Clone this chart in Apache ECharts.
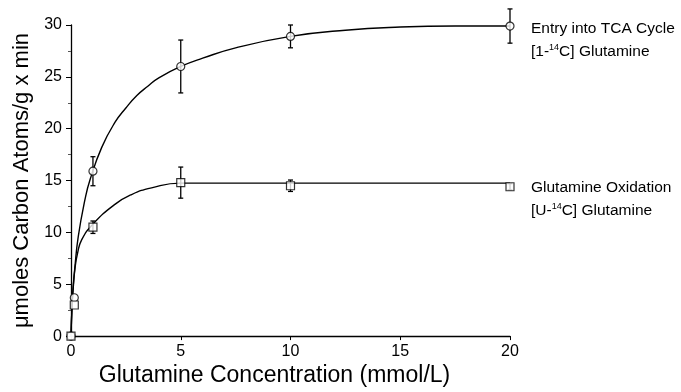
<!DOCTYPE html>
<html>
<head>
<meta charset="utf-8">
<script src="https://cdn.jsdelivr.net/npm/echarts@6/dist/echarts.min.js"></script>
<style>
    html, body { margin: 0; padding: 0; background: #fff; }
    #chart { width: 681px; height: 392px; }
</style>
</head>
<body>
<div id="chart"></div>
<script>
    // measured points (mmol/L glutamine)
    var conc = [0, 0.15, 1, 5, 10, 20];
    var tcaMean = [0, 3.7, 15.9, 26.0, 28.9, 29.9];
    var tcaSd = [0, 0, 1.4, 2.55, 1.1, 1.65];
    var oxMean = [0, 3.0, 10.5, 14.8, 14.5, 14.4];
    var oxSd = [0, 0, 0.6, 1.5, 0.55, 0.3];

    // fitted curves
    var tcaFitX = [0, 0.05, 0.1, 0.17, 0.33, 0.64, 0.87, 1.4, 2.0, 2.5, 3.0, 3.5, 4.0, 5, 6, 7.5, 10, 12.5, 15, 17.5, 20];
    var tcaFitY = [0, 3.0, 4.8, 6.5, 9.6, 13.2, 15.1, 18.2, 20.6, 22.0, 23.2, 24.1, 24.9, 26.0, 26.8, 27.8, 28.9, 29.5, 29.8, 29.9, 29.9];
    var oxFitX = [0, 0.05, 0.1, 0.18, 0.3, 0.49, 1, 2.0, 2.76, 3.67, 5, 10, 20];
    var oxFitY = [0, 3.0, 4.6, 6.5, 8.0, 9.3, 10.8, 12.7, 13.65, 14.3, 14.75, 14.75, 14.75];

    var yTicks = [0, 5, 10, 15, 20, 25, 30];
    var xTicks = [0, 5, 10, 15, 20];

    function pairs(xs, ys) {
        return xs.map(function (x, i) { return [x, ys[i]]; });
    }

    function errData(mean, sd) {
        var out = [];
        conc.forEach(function (x, i) {
            if (sd[i] > 0) out.push([x, mean[i] - sd[i], mean[i] + sd[i]]);
        });
        return out;
    }

    function renderErr(params, api) {
        var lo = api.coord([api.value(0), api.value(1)]);
        var hi = api.coord([api.value(0), api.value(2)]);
        var w = 2.5;
        var st = { stroke: '#000', lineWidth: 1.3 };
        return {
            type: 'group',
            children: [
                { type: 'line', shape: { x1: lo[0], y1: lo[1], x2: hi[0], y2: hi[1] }, style: st },
                { type: 'line', shape: { x1: lo[0] - w, y1: lo[1], x2: lo[0] + w, y2: lo[1] }, style: st },
                { type: 'line', shape: { x1: hi[0] - w, y1: hi[1], x2: hi[0] + w, y2: hi[1] }, style: st }
            ]
        };
    }

    var font = '"Liberation Sans", Arial, sans-serif';
    var chart = echarts.init(document.getElementById('chart'));

    chart.setOption({
        animation: false,
        textStyle: { fontFamily: font, color: '#000' },
        grid: { left: 71, right: 171, top: 25, bottom: 55 },
        xAxis: {
            type: 'value',
            min: 0, max: 20, interval: 5,
            name: 'Glutamine Concentration (mmol/L)',
            nameLocation: 'middle',
            nameGap: 24,
            nameTextStyle: { fontSize: 23, color: '#000', fontFamily: font, padding: [0, 32, 0, 0] },
            axisLine: { lineStyle: { color: '#000', width: 1.3 } },
            axisTick: { show: true, length: 4, lineStyle: { color: '#000' } },
            axisLabel: { fontSize: 16, color: '#000', margin: 7, fontFamily: font,
                formatter: function (v) { return xTicks.indexOf(v) >= 0 ? String(v) : ''; } },
            splitLine: { show: false }
        },
        yAxis: {
            type: 'value',
            min: 0, max: 30, interval: 5,
            name: 'μmoles Carbon Atoms/g x min',
            nameLocation: 'middle',
            nameGap: 35,
            nameRotate: 90,
            nameTextStyle: { fontSize: 22, color: '#000', fontFamily: font },
            axisLine: { show: true, lineStyle: { color: '#000', width: 1.3 } },
            axisTick: { show: true, length: 5, lineStyle: { color: '#000' } },
            minorTick: { show: true, splitNumber: 2, length: 3, lineStyle: { color: '#555' } },
            axisLabel: { fontSize: 16, color: '#000', margin: 9, fontFamily: font,
                formatter: function (v) { return yTicks.indexOf(v) >= 0 ? String(v) : ''; } },
            splitLine: { show: false }
        },
        series: [
            {
                type: 'line', data: pairs(tcaFitX, tcaFitY), showSymbol: false,
                smooth: 0.5,
                lineStyle: { color: '#000', width: 1.4 }, z: 2
            },
            {
                type: 'line', data: pairs(oxFitX, oxFitY), showSymbol: false,
                smooth: 0.5,
                lineStyle: { color: '#000', width: 1.4 }, z: 2
            },
            { type: 'custom', data: errData(tcaMean, tcaSd), renderItem: renderErr, clip: false, z: 3 },
            { type: 'custom', data: errData(oxMean, oxSd), renderItem: renderErr, clip: false, z: 3 },
            {
                type: 'scatter', data: pairs(conc, tcaMean), symbol: 'circle', symbolSize: 8,
                itemStyle: { color: '#fff', borderColor: '#000', borderWidth: 1.2 }, clip: false, z: 4
            },
            {
                type: 'scatter', data: pairs(conc, oxMean), symbol: 'rect', symbolSize: 8,
                itemStyle: { color: '#fff', borderColor: '#000', borderWidth: 1.2 }, clip: false, z: 5
            }
        ],
        graphic: [
            {
                type: 'text', left: 531, top: 17,
                style: {
                    text: 'Entry into TCA Cycle\n{a|[1-}{s|14}{a|C] Glutamine}',
                    font: '15.5px ' + font, fill: '#000', lineHeight: 23,
                    rich: {
                        a: { fontSize: 15.5, fontFamily: font, lineHeight: 23 },
                        s: { fontSize: 9, fontFamily: font, verticalAlign: 'top', lineHeight: 23, padding: [3, 0, 0, 0] }
                    }
                }
            },
            {
                type: 'text', left: 531, top: 176,
                style: {
                    text: 'Glutamine Oxidation\n{a|[U-}{s|14}{a|C] Glutamine}',
                    font: '15.5px ' + font, fill: '#000', lineHeight: 23,
                    rich: {
                        a: { fontSize: 15.5, fontFamily: font, lineHeight: 23 },
                        s: { fontSize: 9, fontFamily: font, verticalAlign: 'top', lineHeight: 23, padding: [3, 0, 0, 0] }
                    }
                }
            }
        ]
    });
</script>
</body>
</html>
